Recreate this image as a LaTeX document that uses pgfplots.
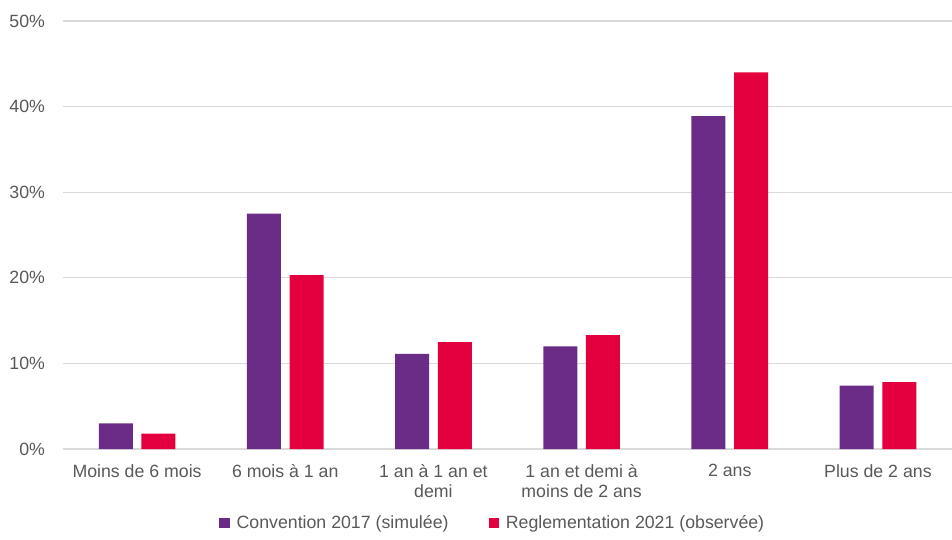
\documentclass[border=0pt]{standalone}
\usepackage{pgfplots}
\pgfplotsset{compat=1.18}
\usepackage{fontspec}
\setmainfont{Liberation Sans}
\definecolor{purp}{HTML}{6A2C86}
\definecolor{redd}{HTML}{E4003F}
\definecolor{txt}{HTML}{595959}
\definecolor{gridc}{HTML}{D9D9D9}
\begin{document}
\begin{tikzpicture}[x=1pt,y=1pt]
\begin{axis}[
  at={(47.25pt,67.5pt)}, anchor=south west,
  scale only axis, width=666.75pt, height=321pt,
  ymin=0, ymax=50, xmin=-0.5, xmax=5.5,
  ybar, bar width=25.5pt,
  axis line style={draw=none},
  ytick={0,10,20,30,40,50},
  yticklabels={0\%,10\%,20\%,30\%,40\%,50\%},
  xtick={0,1,2,3,4,5},
  xticklabels={Moins de 6 mois,6 mois à 1 an,{1 an à 1 an et\\demi},{1 an et demi à\\moins de 2 ans},2 ans,Plus de 2 ans},
  xticklabel style={align=center, font=\fontsize{13.3}{14.8}\selectfont, text=txt, yshift=-8pt},
  yticklabel style={font=\fontsize{13.3}{15.5}\selectfont, text=txt, xshift=-10pt},
  major tick length=0pt,
  xmajorgrids=false, ymajorgrids=true, grid style={draw=gridc, line width=0.9pt},
  /pgf/number format/assume math mode=true,
  clip=false,
  legend style={at={(0.4838,-0.1729)}, anchor=center, draw=none, legend columns=2,
     font=\fontsize{13.3}{15.5}\selectfont, text=txt,
     /tikz/every even column/.append style={column sep=28pt}},
  legend cell align=left,
]
\addplot[fill=purp, draw=none, bar shift=-16pt,
  legend image code/.code={\fill[purp] (0pt,-4pt) rectangle (8pt,4pt);}]
  coordinates {(0,3.0) (1,27.5) (2,11.1) (3,12.0) (4,38.9) (5,7.4)};
\addlegendentry{\hspace{3pt}Convention 2017 (simulée)}
\addplot[fill=redd, draw=none, bar shift=16pt,
  legend image code/.code={\fill[redd] (0pt,-4pt) rectangle (8pt,4pt);}]
  coordinates {(0,1.8) (1,20.3) (2,12.5) (3,13.3) (4,44.0) (5,7.8)};
\addlegendentry{\hspace{3pt}Reglementation 2021 (observée)}
\end{axis}
\pgfresetboundingbox
\path[use as bounding box] (0,0) rectangle (714pt,404.25pt);
\end{tikzpicture}
\end{document}
